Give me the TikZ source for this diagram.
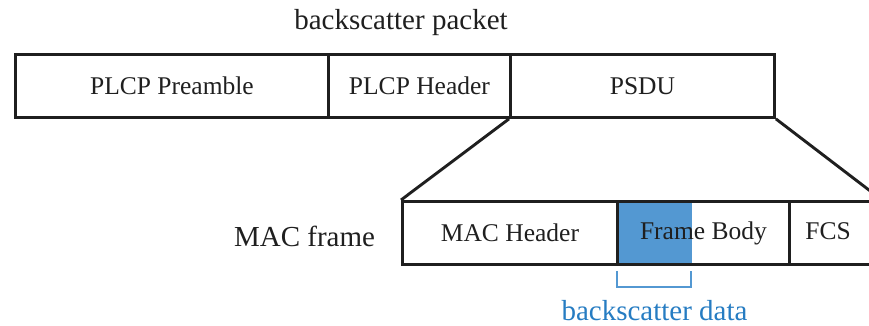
\documentclass[tikz,border=0pt]{standalone}
\usepackage{fontspec}
\setmainfont{Liberation Serif}
\definecolor{hlblue}{RGB}{83,152,210}
\definecolor{txtblue}{RGB}{38,124,194}
\tikzset{
  cell/.style={draw=black!88, line width=2.9pt, anchor=north west, minimum height=63pt,
    inner sep=0pt, font=\fontsize{25.5}{30}\selectfont, text=black!88},
  big/.style={font=\fontsize{29}{34}\selectfont, text=black!88, inner sep=0pt},
  zoomline/.style={draw=black!88, line width=2.9pt},
  bracket/.style={draw=hlblue, line width=2.6pt}
}
\begin{document}
\begin{tikzpicture}[x=1pt,y=-1pt]
\useasboundingbox (0,0) rectangle (869,326);
\clip (0,0) rectangle (869,326);
% title
\node[big] (title) at (401,23) {backscatter packet};
% top row
\node[cell, minimum width=313pt] (pre) at (14,53) {PLCP Preamble};
\node[cell, minimum width=182pt] (hdr) at (327,53) {PLCP Header};
\node[cell, minimum width=264pt] (psdu) at (509,53) {PSDU};
% highlight
\fill[hlblue] (616,200) rectangle (692,263);
% bottom row
\node[big] (macf) at (304.5,236) {MAC frame};
\node[cell, minimum width=215pt] (mach) at (401,200) {MAC Header};
\node[cell, minimum width=172pt] (body) at (616,200) {Frame Body};
\node[cell, minimum width=94pt] (fcs) at (788,200) {};
\node[cell, draw=none, anchor=center, minimum height=0pt] (fcstext) at (828,231.5) {FCS};
% zoom lines
\coordinate (zr) at (882,200);
\draw[zoomline] (psdu.south west) -- (mach.north west);
\draw[zoomline] (psdu.south east) -- (zr);
% bracket
\coordinate (b1) at (617,271);
\coordinate (b2) at (617,287);
\coordinate (b3) at (691,287);
\coordinate (b4) at (691,271);
\draw[bracket] (b1) -- (b2) -- (b3) -- (b4);
\node[big, text=txtblue] (bdata) at (654.5,311) {backscatter data};
\end{tikzpicture}
\end{document}
